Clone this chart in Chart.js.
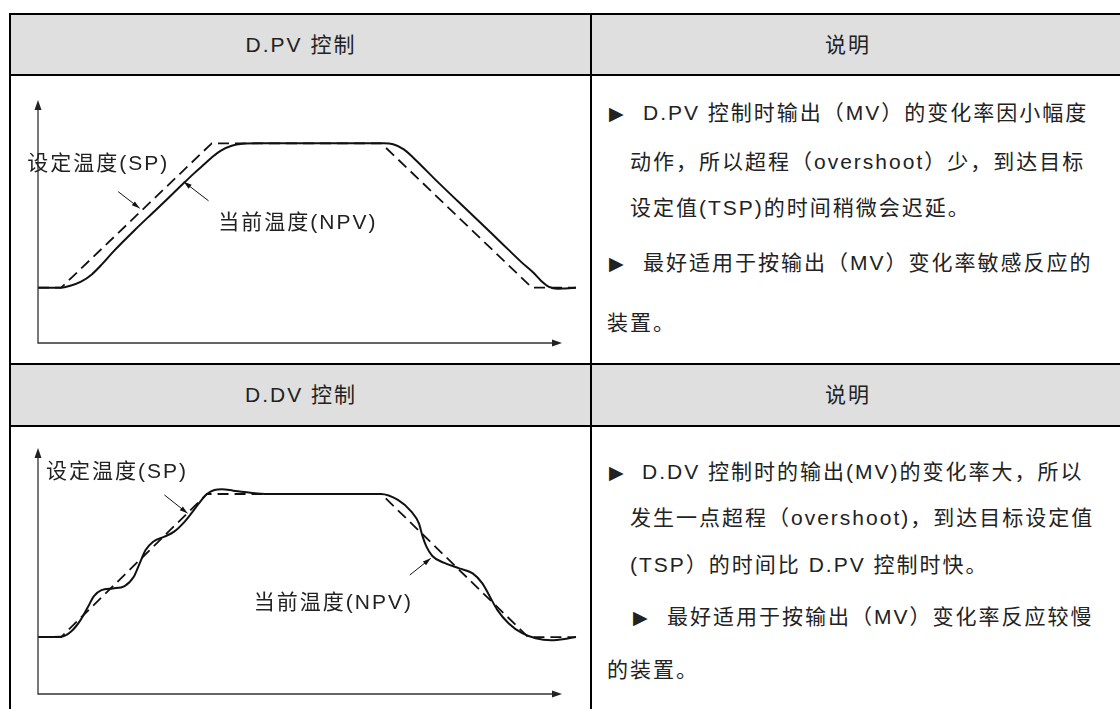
<!DOCTYPE html>
<html>
<head>
<meta charset="utf-8">
<script src="https://cdn.jsdelivr.net/npm/chart.js@4.4.0/dist/chart.umd.min.js"></script>
<style>
    html, body { margin: 0; padding: 0; background: #fff; }
    body {
        width: 1120px; height: 709px; position: relative; overflow: hidden;
        font-family: "Liberation Sans", "Noto Sans CJK SC", sans-serif;
        font-size: 21px; letter-spacing: 2px; color: #222;
    }
    .hd { position: absolute; background: #dfdfdf; }
    .b { position: absolute; background: #000; }
    .t { position: absolute; white-space: nowrap; line-height: 30px; }
    .c { transform: translateX(-50%); }
    .m { position: absolute; font-family: "DejaVu Sans"; font-size: 19px; line-height: 30px; letter-spacing: 0; }
    canvas { position: absolute; }
</style>
</head>
<body>
<!-- fondos de cabecera -->
<div class="hd" style="left:11px;top:15px;width:1109px;height:59px"></div>
<div class="hd" style="left:11px;top:365px;width:1109px;height:60px"></div>

<!-- bordes de la tabla -->
<div class="b" style="left:9px;top:13px;width:1111px;height:2px"></div>
<div class="b" style="left:9px;top:74px;width:1111px;height:2px"></div>
<div class="b" style="left:9px;top:363px;width:1111px;height:2px"></div>
<div class="b" style="left:9px;top:425px;width:1111px;height:2px"></div>
<div class="b" style="left:9px;top:13px;width:2px;height:696px"></div>
<div class="b" style="left:590px;top:13px;width:2px;height:696px"></div>

<!-- cabeceras -->
<div class="t c" style="left:301px;top:30px">D.PV 控制</div>
<div class="t c" style="left:848px;top:30px">说明</div>
<div class="t c" style="left:301px;top:380px">D.DV 控制</div>
<div class="t c" style="left:848px;top:380px">说明</div>

<!-- texto D.PV -->
<div class="m" style="left:609px;top:98px">▶</div>
<div class="t" style="left:643px;top:98px">D.PV 控制时输出（MV）的变化率因小幅度</div>
<div class="t" style="left:630px;top:147px">动作，所以超程（overshoot）少，到达目标</div>
<div class="t" style="left:630px;top:193px">设定值(TSP)的时间稍微会迟延。</div>
<div class="m" style="left:609px;top:248px">▶</div>
<div class="t" style="left:643px;top:248px">最好适用于按输出（MV）变化率敏感反应的</div>
<div class="t" style="left:607px;top:308px">装置。</div>

<!-- texto D.DV -->
<div class="m" style="left:609px;top:457px">▶</div>
<div class="t" style="left:642px;top:457px">D.DV 控制时的输出(MV)的变化率大，所以</div>
<div class="t" style="left:630px;top:503px">发生一点超程（overshoot)，到达目标设定值</div>
<div class="t" style="left:630px;top:550px">(TSP）的时间比 D.PV 控制时快。</div>
<div class="m" style="left:633px;top:602px">▶</div>
<div class="t" style="left:667px;top:602px">最好适用于按输出（MV）变化率反应较慢</div>
<div class="t" style="left:607px;top:655px">的装置。</div>

<canvas id="chartDpv" width="579" height="287" style="left:11px;top:76px"></canvas>
<canvas id="chartDdv" width="579" height="282" style="left:11px;top:427px"></canvas>

<script>
// D.PV: temperatura de consigna (SP) y temperatura actual (NPV)
const spDpvTime = [0, 4.3, 32.3, 63.8, 91.8, 100];
const spDpvTemp = [23, 23, 83, 83, 23, 23];
const pvDpvTime = [0, 4.3, 6, 8, 10, 12, 14, 18, 22, 26, 29, 31, 32.5, 34, 36, 38, 41,
    64.3, 66, 68, 70, 74, 78, 82, 86, 90, 92, 93.5, 95, 96.5, 98, 100];
const pvDpvTemp = [23, 23, 23.8, 25.5, 28.5, 33, 38, 47, 55.5, 64.1, 70.5, 74.5, 77.5, 80, 82, 82.8, 83,
    83, 82.6, 80.5, 76.5, 67.6, 59, 50.5, 41.9, 33.3, 29.4, 25.9, 23.3, 22.5, 22.7, 23];

// D.DV
const spDdvTime = [0, 4.3, 31.4, 63.8, 91.1, 100];
const spDdvTemp = [23, 23, 83, 83, 23, 23];
const pvDdvTime = [0, 4.3, 6.1, 7.9, 9.3, 10.4, 11.8, 13.9, 16.1, 17.8, 18.9, 20.0, 21.4, 23.5, 25.3,
    27.1, 28.5, 29.9, 31.4, 32.8, 34.2, 36.3, 39.2, 42.7, 63.7, 66.9, 69.4, 70.8, 71.5, 72.2, 73.3,
    75.4, 78.3, 80.8, 82.6, 84.0, 85.4, 87.5, 90.0, 92.5, 95.4, 98.2, 100];
const pvDdvTemp = [23, 23.1, 25.2, 30.1, 35.7, 40.2, 42.7, 43.4, 44.4, 48.3, 53.9, 59.5, 63, 65.1, 67.2,
    71, 74.9, 79.1, 83, 84.7, 85, 84.4, 83.6, 83, 83, 80.5, 75.6, 70.7, 65.1, 60.9, 57,
    54.2, 51.8, 49.7, 45.5, 39.9, 34.3, 28.7, 24.6, 22.5, 21.7, 22.3, 23];

const spLabel = '设定温度(SP)';
const pvLabel = '当前温度(NPV)';

// Anotaciones (en unidades de datos)
const notesDpv = {
    labels: [{ text: spLabel, x: -2.0, y: 74.4 }, { text: pvLabel, x: 33.5, y: 49.9 }],
    pointers: [{ from: [14.9, 62.9], to: [18.9, 56.0] }, { from: [31.7, 59.1], to: [27.1, 67.0] }]
};
const notesDdv = {
    labels: [{ text: spLabel, x: 1.5, y: 92.2 }, { text: pvLabel, x: 40.1, y: 37.3 }],
    pointers: [{ from: [23.5, 82.6], to: [27.8, 74.9] }, { from: [69.1, 49.0], to: [73.0, 56.0] }]
};

const zip = (xs, ys) => xs.map((x, i) => ({ x: x, y: ys[i] }));

function head(ctx, x1, y1, x2, y2, len, half) {
    const ang = Math.atan2(y2 - y1, x2 - x1);
    ctx.beginPath();
    ctx.moveTo(x2, y2);
    ctx.lineTo(x2 - len * Math.cos(ang) + half * Math.sin(ang), y2 - len * Math.sin(ang) - half * Math.cos(ang));
    ctx.lineTo(x2 - len * Math.cos(ang) - half * Math.sin(ang), y2 - len * Math.sin(ang) + half * Math.cos(ang));
    ctx.closePath();
    ctx.fill();
}

const overlay = {
    id: 'overlay',
    afterDatasetsDraw(chart, args, opts) {
        const { ctx, chartArea: a, scales: { x, y } } = chart;
        ctx.save();
        // ejes con flecha
        ctx.strokeStyle = '#333';
        ctx.fillStyle = '#222';
        ctx.lineWidth = 1.3;
        const xEnd = a.right - 14;
        ctx.beginPath();
        ctx.moveTo(a.left, a.top + 6);
        ctx.lineTo(a.left, a.bottom);
        ctx.lineTo(xEnd - 6, a.bottom);
        ctx.stroke();
        head(ctx, a.left, a.bottom, a.left, a.top, 10, 3.5);
        head(ctx, a.left, a.bottom, xEnd, a.bottom, 10, 3.5);

        // flechas indicadoras
        ctx.strokeStyle = '#111';
        ctx.fillStyle = '#111';
        ctx.lineWidth = 1;
        opts.notes.pointers.forEach(p => {
            const x1 = x.getPixelForValue(p.from[0]), y1 = y.getPixelForValue(p.from[1]);
            const x2 = x.getPixelForValue(p.to[0]), y2 = y.getPixelForValue(p.to[1]);
            ctx.beginPath();
            ctx.moveTo(x1, y1);
            ctx.lineTo(x2, y2);
            ctx.stroke();
            head(ctx, x1, y1, x2, y2, 8, 2.5);
        });

        // etiquetas
        ctx.fillStyle = '#222';
        ctx.font = '21px "Liberation Sans", "Noto Sans CJK SC", sans-serif';
        ctx.letterSpacing = '2px';
        ctx.textAlign = 'left';
        ctx.textBaseline = 'middle';
        opts.notes.labels.forEach(l => {
            ctx.fillText(l.text, x.getPixelForValue(l.x), y.getPixelForValue(l.y));
        });
        ctx.restore();
    }
};

function makeChart(id, sp, pv, notes, yMin, yMax, pad) {
    return new Chart(document.getElementById(id), {
        type: 'line',
        data: {
            datasets: [{
                label: spLabel,
                data: sp,
                borderColor: '#111',
                borderWidth: 1.8,
                borderDash: [11, 6],
                tension: 0,
                pointRadius: 0,
                clip: false
            }, {
                label: pvLabel,
                data: pv,
                borderColor: '#111',
                borderWidth: 2,
                cubicInterpolationMode: 'monotone',
                pointRadius: 0,
                clip: false
            }]
        },
        options: {
            responsive: false,
            animation: false,
            devicePixelRatio: 1,
            layout: { padding: pad },
            scales: {
                x: { type: 'linear', min: 0, max: 100, display: false },
                y: { min: yMin, max: yMax, display: false }
            },
            plugins: {
                legend: { display: false },
                tooltip: { enabled: false },
                overlay: { notes: notes }
            }
        },
        plugins: [overlay]
    });
}

makeChart('chartDpv', zip(spDpvTime, spDpvTemp), zip(pvDpvTime, pvDpvTemp), notesDpv,
    0, 101, { left: 27, right: 14, top: 24, bottom: 20 });
makeChart('chartDdv', zip(spDdvTime, spDdvTemp), zip(pvDdvTime, pvDdvTemp), notesDdv,
    -0.9, 102.3, { left: 27, right: 14, top: 21, bottom: 15 });
</script>
</body>
</html>
